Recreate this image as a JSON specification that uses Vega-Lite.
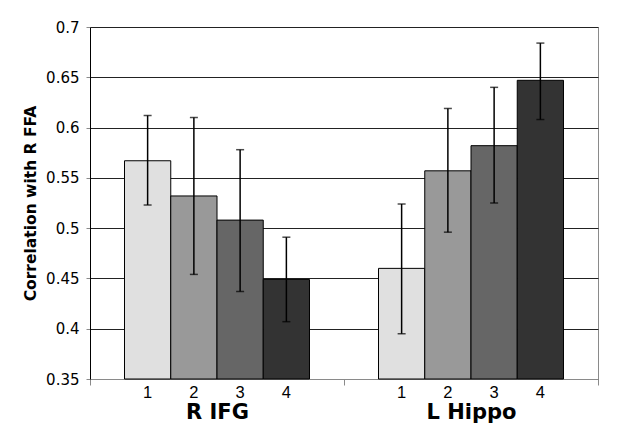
{
  "$schema": "https://vega.github.io/schema/vega-lite/v6.json",
  "width": 508,
  "height": 352,
  "autosize": {"type": "none"},
  "padding": {"left": 90, "top": 27, "right": 26, "bottom": 63},
  "background": "white",
  "config": {
    "view": {"stroke": "#8a8a8a", "strokeWidth": 1}
  },
  "data": {
    "values": [
      {"group": "R IFG", "bar": 1, "value": 0.567, "lo": 0.523, "hi": 0.612},
      {"group": "R IFG", "bar": 2, "value": 0.532, "lo": 0.454, "hi": 0.610},
      {"group": "R IFG", "bar": 3, "value": 0.508, "lo": 0.437, "hi": 0.578},
      {"group": "R IFG", "bar": 4, "value": 0.449, "lo": 0.407, "hi": 0.491},
      {"group": "L Hippo", "bar": 1, "value": 0.460, "lo": 0.395, "hi": 0.524},
      {"group": "L Hippo", "bar": 2, "value": 0.557, "lo": 0.496, "hi": 0.619},
      {"group": "L Hippo", "bar": 3, "value": 0.582, "lo": 0.525, "hi": 0.640},
      {"group": "L Hippo", "bar": 4, "value": 0.647, "lo": 0.608, "hi": 0.684}
    ]
  },
  "encoding": {
    "x": {
      "field": "group",
      "type": "nominal",
      "sort": ["R IFG", "L Hippo"],
      "scale": {"paddingInner": 0, "paddingOuter": 0},
      "axis": {
        "title": null,
        "labelAngle": 0,
        "labelFont": "DejaVu Sans",
        "labelFontWeight": "bold",
        "labelFontSize": 21,
        "labelColor": "black",
        "labelPadding": 16,
        "tickBand": "extent",
        "tickSize": 6,
        "tickColor": "#8a8a8a",
        "domainColor": "#8a8a8a",
        "grid": false
      }
    },
    "xOffset": {
      "field": "bar",
      "type": "ordinal",
      "scale": {"paddingInner": 0, "paddingOuter": 0.746}
    }
  },
  "layer": [
    {
      "mark": {"type": "bar", "stroke": "black", "strokeWidth": 1},
      "encoding": {
        "y": {
          "field": "value",
          "type": "quantitative",
          "scale": {"domain": [0.35, 0.7], "zero": false, "nice": false},
          "axis": {
            "values": [0.35, 0.4, 0.45, 0.5, 0.55, 0.6, 0.65, 0.7],
            "format": "~g",
            "grid": true,
            "gridColor": "#222222",
            "gridOpacity": 1,
            "gridWidth": 1,
            "domainColor": "black",
            "tickColor": "#8a8a8a",
            "tickSize": 4,
            "labelFont": "DejaVu Sans",
            "labelFontSize": 15,
            "labelColor": "black",
            "labelPadding": 7,
            "title": "Correlation with R FFA",
            "titleFont": "DejaVu Sans",
            "titleFontWeight": "bold",
            "titleFontSize": 15.5,
            "titleColor": "black",
            "titlePadding": 7
          }
        },
        "y2": {"datum": 0.35},
        "fill": {
          "field": "bar",
          "type": "ordinal",
          "scale": {"domain": [1, 2, 3, 4], "range": ["#e0e0e0", "#999999", "#666666", "#333333"]},
          "legend": null
        }
      }
    },
    {
      "mark": {"type": "rule", "color": "black", "strokeWidth": 1.5},
      "encoding": {
        "y": {"field": "lo", "type": "quantitative"},
        "y2": {"field": "hi"}
      }
    },
    {
      "mark": {"type": "tick", "color": "black", "thickness": 1.5, "size": 8},
      "encoding": {"y": {"field": "hi", "type": "quantitative"}}
    },
    {
      "mark": {"type": "tick", "color": "black", "thickness": 1.5, "size": 8},
      "encoding": {"y": {"field": "lo", "type": "quantitative"}}
    },
    {
      "mark": {"type": "text", "baseline": "top", "dy": 6, "font": "Liberation Sans", "fontSize": 16.5, "color": "black"},
      "encoding": {
        "y": {"datum": 0.35},
        "text": {"field": "bar", "type": "ordinal"}
      }
    }
  ]
}
